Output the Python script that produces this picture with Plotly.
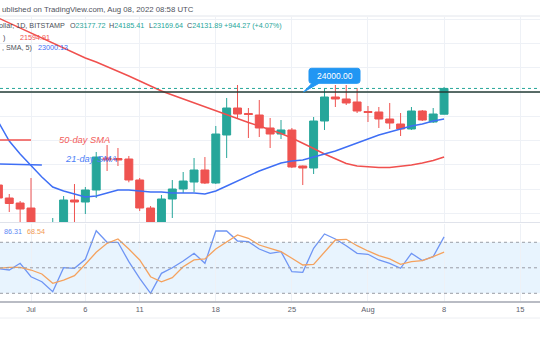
import pandas as pd
import plotly.graph_objects as go

# ---------------- data ----------------
dates = [
    "2022-06-28", "2022-06-29", "2022-06-30",
    "2022-07-01", "2022-07-02", "2022-07-03", "2022-07-04", "2022-07-05", "2022-07-06", "2022-07-07",
    "2022-07-08", "2022-07-09", "2022-07-10", "2022-07-11", "2022-07-12", "2022-07-13", "2022-07-14",
    "2022-07-15", "2022-07-16", "2022-07-17", "2022-07-18", "2022-07-19", "2022-07-20", "2022-07-21",
    "2022-07-22", "2022-07-23", "2022-07-24", "2022-07-25", "2022-07-26", "2022-07-27", "2022-07-28",
    "2022-07-29", "2022-07-30", "2022-07-31",
    "2022-08-01", "2022-08-02", "2022-08-03", "2022-08-04", "2022-08-05", "2022-08-06", "2022-08-07",
    "2022-08-08",
]
opens = [20555, 20074, 19889, 19703, 19150, 19050, 19150, 20000, 19926, 20370,
         21555, 21537, 21518, 20741, 19703, 19100, 20037, 20407, 20666, 21111,
         20629, 22407, 23407, 23204, 23148, 22667, 22444, 22593, 21259, 21185,
         22926, 23815, 23741, 23630, 23278, 23259, 23000, 22815, 22630, 23296,
         22889, 23177.72]
highs = [20740, 20222, 19963, 20815, 19120, 19333, 20148, 20592, 20481, 21778,
         22037, 21926, 21630, 20815, 19777, 20185, 20740, 21037, 21555, 21592,
         22741, 23778, 24259, 23407, 23704, 23037, 22963, 22667, 21278, 23074,
         24148, 24259, 24259, 24148, 23481, 23444, 23593, 23222, 23444, 23333,
         23407, 24185.41]
lows = [19926, 19555, 18900, 18950, 18950, 18800, 18950, 19050, 19481, 20074,
        21074, 21259, 20655, 19592, 18900, 18950, 19333, 20259, 20296, 20592,
        20592, 21555, 23037, 22296, 22333, 21926, 22259, 21185, 20555, 20963,
        22593, 23444, 23518, 23222, 22889, 22667, 22630, 22370, 22593, 22926,
        22852, 23169.64]
closes = [20074, 19870, 19666, 19150, 19050, 19150, 20000, 19926, 20370, 21592,
          21481, 21481, 20741, 19703, 19100, 20037, 20407, 20703, 21111, 20629,
          22444, 23407, 23185, 23167, 22667, 22444, 22593, 21222, 21185, 22926,
          23815, 23741, 23593, 23296, 23241, 23000, 22852, 22630, 23296, 22963,
          23185, 24131.89]
sma_slow = [26741, 26556, 26371, 26185, 26000, 25815, 25630, 25445, 25259, 25111,
            24945, 24778, 24593, 24407, 24222, 24037, 23889, 23741, 23593, 23444,
            23296, 23148, 23000, 22870, 22741, 22611, 22463, 22296, 22111, 21907,
            21704, 21518, 21352, 21259, 21222, 21204, 21204, 21241, 21296, 21370,
            21463, 21594.91]
sma_fast = [22889, 22185, 21704, 21259, 20852, 20481, 20333, 20222, 20111, 20148,
            20259, 20370, 20370, 20333, 20296, 20296, 20259, 20259, 20259, 20222,
            20333, 20518, 20703, 20889, 21074, 21222, 21370, 21444, 21481, 21592,
            21704, 21815, 21963, 22111, 22259, 22407, 22518, 22630, 22741, 22815,
            22926, 23000.13]
stoch_k = [49, 47.4, 55.3, 39.5, 33.6, 21.9, 50.1, 49.4, 60, 93.6,
           80, 80, 57.2, 37.6, 20, 43.5, 50.1, 58, 67, 55.3,
           93.3, 93.3, 81.5, 80.7, 72.1, 67, 69, 45.4, 44.7, 72.9,
           89.8, 83.9, 76, 67, 65.9, 59.2, 55.3, 49.4, 67, 58.4,
           63.1, 86.31]
stoch_d = [49.4, 50.6, 50.6, 47.4, 42.7, 31.8, 35.6, 40.7, 54.1, 68.2,
           78.8, 83.9, 72.1, 59.2, 39.5, 33.6, 38.4, 51.3, 59.2, 60.4,
           72.1, 80.7, 88.6, 84.7, 76.8, 72.9, 69, 61.2, 53.3, 54.1,
           69, 82.7, 83.5, 76, 69.8, 64.2, 60.4, 54.1, 57.2, 58.4,
           63.1, 68.54]
tick_dates = ["2022-07-01", "2022-07-06", "2022-07-11", "2022-07-18",
              "2022-07-25", "2022-08-01", "2022-08-08", "2022-08-15"]
tick_text = ["Jul", "6", "11", "18", "25", "Aug", "8", "15"]
resistance = 24000
stoch_levels = [80, 50, 20]
slow_label_price = 22222
fast_label_price = 21333
change_text = "+944.27 (+4.07%)"

# ---------------- styling ----------------
W, H = 540, 340
GREEN = "#26a69a"
RED = "#ef5350"
SMA_RED = "#f0504e"
SMA_BLUE = "#3f6ff5"
K_BLUE = "#6f95f4"
D_ORANGE = "#f5a25e"
GRID = "#eef1f6"
FONT = "Liberation Sans, Arial, sans-serif"
TXT = "#4c4f59"


def px(x):
    return x / W


def py(y):
    return 1 - y / H


day_px = 10.87
x_left = pd.Timestamp("2022-07-01") - pd.Timedelta(days=31 / day_px)
x_right = x_left + pd.Timedelta(days=W / day_px)
x_range = [x_left.strftime("%Y-%m-%d %H:%M:%S"), x_right.strftime("%Y-%m-%d %H:%M:%S")]

ppk = 27.0  # pixels per 1000 price units
p_top = resistance + (92 - 16.5) / ppk * 1000
p_bot = resistance - (222 - 92) / ppk * 1000

fig = go.Figure()
fig.add_trace(go.Candlestick(
    x=dates, open=opens, high=highs, low=lows, close=closes,
    increasing=dict(line=dict(color=GREEN, width=1), fillcolor=GREEN),
    decreasing=dict(line=dict(color=RED, width=1), fillcolor=RED),
    whiskerwidth=0, showlegend=False, hoverinfo="skip", xaxis="x", yaxis="y"))
fig.add_trace(go.Scatter(x=dates, y=sma_slow, mode="lines", line=dict(color=SMA_RED, width=1.5),
                         showlegend=False, hoverinfo="skip", xaxis="x", yaxis="y"))
fig.add_trace(go.Scatter(x=dates, y=sma_fast, mode="lines", line=dict(color=SMA_BLUE, width=1.5),
                         showlegend=False, hoverinfo="skip", xaxis="x", yaxis="y"))
fig.add_trace(go.Scatter(x=dates, y=stoch_k, mode="lines", line=dict(color=K_BLUE, width=1.3),
                         showlegend=False, hoverinfo="skip", xaxis="x2", yaxis="y2"))
fig.add_trace(go.Scatter(x=dates, y=stoch_d, mode="lines", line=dict(color=D_ORANGE, width=1.3),
                         showlegend=False, hoverinfo="skip", xaxis="x2", yaxis="y2"))

shapes = []
# stochastic band and levels
shapes.append(dict(type="rect", xref="x2 domain", yref="y2", x0=0, x1=1, y0=20, y1=80,
                   fillcolor="rgba(33,150,243,0.10)", line=dict(width=0), layer="below"))
for lv in stoch_levels:
    shapes.append(dict(type="line", xref="x2 domain", yref="y2", x0=0, x1=1, y0=lv, y1=lv,
                       line=dict(color="#9a9da6", width=1, dash="3px,3px")))
# resistance and last-close lines
shapes.append(dict(type="line", xref="x domain", yref="y", x0=0, x1=1, y0=closes[-1], y1=closes[-1],
                   line=dict(color=GREEN, width=1, dash="dot")))
shapes.append(dict(type="line", xref="x domain", yref="y", x0=0, x1=1, y0=resistance, y1=resistance,
                   line=dict(color="#233d36", width=1.5)))
# label key lines
shapes.append(dict(type="line", xref="x", yref="y", x0=x_range[0], x1="2022-07-01",
                   y0=slow_label_price, y1=slow_label_price, line=dict(color=SMA_RED, width=1.5)))
shapes.append(dict(type="line", xref="x", yref="y", x0=x_range[0], x1="2022-07-02",
                   y0=fast_label_price, y1=fast_label_price - 40, line=dict(color=SMA_BLUE, width=1.5)))
# header separator and bottom rule
shapes.append(dict(type="line", xref="paper", yref="paper", x0=0, x1=1, y0=py(16), y1=py(16),
                   line=dict(color="#e3e6ec", width=1)))
shapes.append(dict(type="line", xref="paper", yref="paper", x0=0, x1=1, y0=py(318), y1=py(318),
                   line=dict(color="#eceef2", width=1)))


# callout bubble (pixel based path converted to paper coords)
def P(x, y):
    return f"{px(x):.5f},{py(y):.5f}"


bx0, bx1, by0, by1, r = 309, 360, 68.3, 83.3, 2.5
path = (f"M {P(bx0 + r, by0)} L {P(bx1 - r, by0)} Q {P(bx1, by0)} {P(bx1, by0 + r)} "
        f"L {P(bx1, by1 - r)} Q {P(bx1, by1)} {P(bx1 - r, by1)} "
        f"L {P(319, by1)} L {P(303.5, 92)} L {P(312, by1)} "
        f"L {P(bx0 + r, by1)} Q {P(bx0, by1)} {P(bx0, by1 - r)} "
        f"L {P(bx0, by0 + r)} Q {P(bx0, by0)} {P(bx0 + r, by0)} Z")
shapes.append(dict(type="path", xref="paper", yref="paper", path=path,
                   fillcolor="#2196f3", line=dict(color="#2196f3", width=1)))

ann = []


def A(x, y, text, size=7.2, color=TXT, anchor="left"):
    ann.append(dict(x=px(x), y=py(y), xref="paper", yref="paper", text=text, showarrow=False,
                    xanchor=anchor, yanchor="middle", font=dict(family=FONT, size=size, color=color)))


def g(s):
    return f"<span style='color:{GREEN}'>{s}</span>"


A(-0.5, 9, "ublished on TradingView.com, Aug 08, 2022 08:58 UTC", size=7.8, color="#50535d")
A(-3, 26, "ollar, 1D, BITSTAMP")
A(68, 26, "O" + g(f"{opens[-1]:.2f}"))
A(107, 26, "H" + g(f"{highs[-1]:.2f}"))
A(147, 26, "L" + g(f"{lows[-1]:.2f}"))
A(185, 26, "C" + g(f"{closes[-1]:.2f}"))
A(222, 26, g(change_text))
A(1, 37, ")")
A(18, 37, f"{sma_slow[-1]:.2f}", color=SMA_RED)
A(-0.5, 47.5, ", SMA, 5)")
A(36, 47.5, f"{sma_fast[-1]:.2f}", color=SMA_BLUE)
A(334.5, 75.8, f"{resistance:.2f}", size=8.5, color="white", anchor="center")
A(57, 139.5, "<i>50-day SMA</i>", size=9.3, color="#f25c5a")
A(63, 158.5, "<i>21-day SMA</i>", size=9.3, color="#4d7ef7")
A(1.5, 231.5, f"{stoch_k[-1]:.2f}", color="#5d88f5")
A(25, 231.5, f"{stoch_d[-1]:.2f}", color="#f39a52")

fig.update_layout(
    width=W, height=H, margin=dict(l=0, r=0, t=0, b=0),
    paper_bgcolor="white", plot_bgcolor="white", showlegend=False,
    boxgap=0.27, boxgroupgap=0,
    xaxis=dict(domain=[0, 1], anchor="y", type="date", range=x_range,
               tickvals=tick_dates, showticklabels=False, ticks="",
               showgrid=True, gridcolor=GRID, gridwidth=1,
               showline=True, linecolor="#e0e3eb", linewidth=1, mirror=False,
               zeroline=False, rangeslider=dict(visible=False), fixedrange=True),
    yaxis=dict(domain=[py(222), py(16.5)], anchor="x", range=[p_bot, p_top],
               tick0=resistance, dtick=900, showticklabels=False, ticks="",
               showgrid=True, gridcolor=GRID, gridwidth=1, zeroline=False, fixedrange=True),
    xaxis2=dict(domain=[0, 1], anchor="y2", type="date", matches="x", range=x_range,
                tickvals=tick_dates, ticktext=tick_text, ticks="",
                tickfont=dict(family=FONT, size=7.5, color="#5d606b"),
                showgrid=True, gridcolor=GRID, gridwidth=1,
                showline=True, linecolor="#b9bcc4", linewidth=2, zeroline=False, fixedrange=True),
    yaxis2=dict(domain=[py(301), py(223.5)], anchor="x2", range=[10.94, 102.1],
                showticklabels=False, ticks="", showgrid=False, zeroline=False, fixedrange=True),
    shapes=shapes, annotations=ann,
)

fig.write_html("out.html", config=dict(displayModeBar=False, staticPlot=True))
